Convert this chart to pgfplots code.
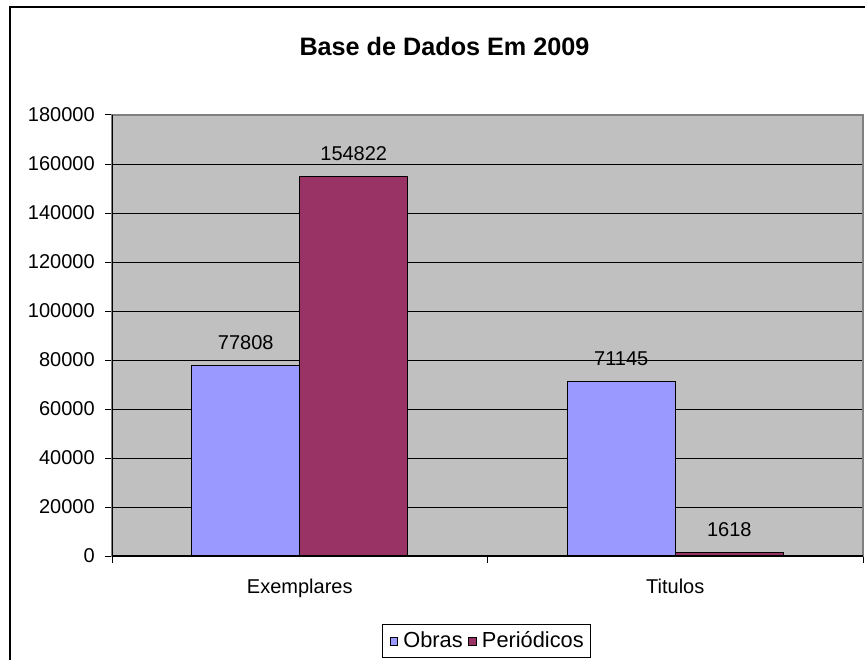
\documentclass[border=0pt]{standalone}
\usepackage{fontspec}
\setmainfont{Liberation Sans}
\usepackage{pgfplots}
\pgfplotsset{compat=1.18}
\definecolor{obras}{HTML}{9999FF}
\definecolor{period}{HTML}{993366}
\definecolor{plotbg}{HTML}{C0C0C0}
\definecolor{plotedge}{HTML}{808080}
\newcommand{\chartfont}{\fontsize{10}{12}\selectfont}
\pgfplotsset{
  sq/.style={legend image code/.code={%
    \path[draw=none, fill=none] (0pt,0pt) -- (7.2pt,0pt);
    \draw[##1, draw=black, line width=0.5pt] (1.6pt,-2.3pt) rectangle (5.45pt,1.55pt);}},
}

\begin{document}
\begin{tikzpicture}
\useasboundingbox (0,0) rectangle (432.5pt,329.5pt);
\clip (0,0) rectangle (432.5pt,329.5pt);
% chart area frame (cut off at right and bottom)
\draw[line width=1pt] (5pt,-10pt) -- (5pt,325.9pt) -- (445pt,325.9pt);
\node[font=\bfseries\fontsize{12.6}{15}\selectfont] at (222.25pt,306.5pt) {Base de Dados Em 2009};
\begin{axis}[
    at={(56pt,51.5pt)}, anchor=south west,
    scale only axis, width=375.5pt, height=220.5pt,
    ybar=0pt, bar width=54pt,
    xmin=-0.5, xmax=1.5, ymin=0, ymax=180000,
    ytick={0,20000,...,180000},
    xtick={-0.5,0.5,1.5},
    xticklabels={Exemplares,Titulos},
    x tick label as interval,
    xtick pos=left, ytick pos=left,
    tick align=outside, major tick length=3.5pt,
    tick style={black, line width=0.5pt},
    scaled y ticks=false,
    /pgf/number format/fixed,
    /pgf/number format/precision=0,
    /pgf/number format/1000 sep={},
    /pgf/number format/assume math mode=true,
    ticklabel style={font=\chartfont},
    yticklabel style={xshift=-1.6pt},
    xticklabel style={yshift=-4.25pt},
    ymajorgrids,
    major grid style={black, line width=0.5pt},
    axis background/.style={fill=plotbg},
    axis line style={draw=plotedge, line width=1pt},
    nodes near coords,
    nodes near coords style={font=\chartfont, inner sep=0pt, yshift=7.6pt, black},
    legend columns=2,
    legend style={at={(0.4985,-0.1916)}, anchor=center, draw=black, line width=0.5pt,
        font=\fontsize{10.9}{13}\selectfont, inner xsep=2.2pt, inner ysep=1.5pt,
        nodes={inner xsep=1pt, inner ysep=0.5pt, text height=0.95em, text depth=0.3em},
        /tikz/every even column/.append style={column sep=0.4pt}},
]
\addplot[fill=obras, draw=black, line width=0.5pt, sq] coordinates {(0,77808) (1,71145)};
\addplot[fill=period, draw=black, line width=0.5pt, sq] coordinates {(0,154822) (1,1618)};
\legend{Obras, Periódicos}
\draw[black, line width=0.8pt] (rel axis cs:0,1) -- (rel axis cs:0,0) -- (rel axis cs:1,0);
\end{axis}
\end{tikzpicture}
\end{document}
